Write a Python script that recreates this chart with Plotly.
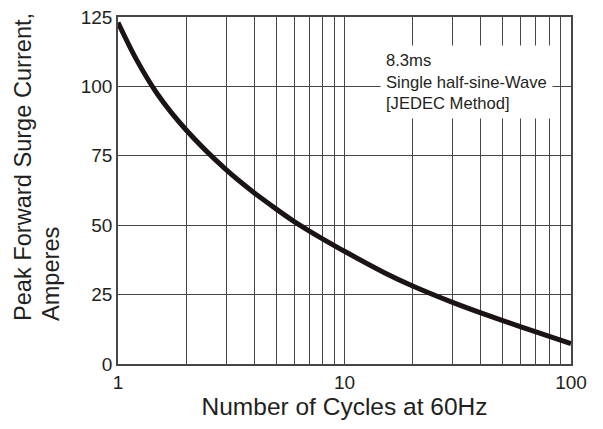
import plotly.graph_objects as go

cycles = [1, 1.2, 1.5, 2, 3, 4, 5, 6, 7, 8, 10, 15, 20, 30, 40, 50, 70, 100]
current = [123, 110, 97, 84.3, 70, 61.6, 55.8, 51.3, 47.9, 45.1, 40.6, 32.9, 28.1, 22.2, 18.4, 15.6, 11.6, 7.3]

x_tick_vals = [1, 10, 100]
x_tick_text = ["1", "10", "100"]
x_minor_vals = [2, 3, 4, 5, 6, 7, 8, 9, 20, 30, 40, 50, 60, 70, 80, 90]
y_tick_vals = [0, 25, 50, 75, 100, 125]

x_title = "Number of Cycles at 60Hz"
y_title_line1 = "Peak Forward Surge Current,"
y_title_line2 = "Amperes"
note_text = "8.3ms<br>Single half-sine-Wave<br>[JEDEC Method]"

font_family = "Liberation Sans, Arial, sans-serif"
text_color = "#231f20"
grid_color = "#4a4545"

fig = go.Figure()
fig.add_trace(go.Scatter(
    x=cycles, y=current, mode="lines",
    line=dict(color="#1c1414", width=5, shape="spline", smoothing=0.8),
    showlegend=False, hoverinfo="skip",
))

fig.update_layout(
    width=603, height=429,
    margin=dict(l=110, r=40, t=9, b=73),
    paper_bgcolor="white", plot_bgcolor="white",
    font=dict(family=font_family, color=text_color),
    xaxis=dict(
        type="log", range=[0, 2], automargin=False,
        tickvals=x_tick_vals, ticktext=x_tick_text,
        tickfont=dict(size=19), ticks="", ticklabeloverflow="allow",
        showgrid=True, gridcolor=grid_color, gridwidth=1.3,
        minor=dict(tickvals=x_minor_vals, showgrid=True, gridcolor=grid_color, gridwidth=1.3, ticks=""),
        showline=True, linecolor=grid_color, linewidth=1.5, mirror=True,
        zeroline=False,
        title=dict(text=x_title, font=dict(size=24.5), standoff=6),
    ),
    yaxis=dict(
        range=[0, 125], tickvals=y_tick_vals, automargin=False,
        tickfont=dict(size=19), ticks="", ticklabeloverflow="allow",
        showgrid=True, gridcolor=grid_color, gridwidth=1.3,
        showline=True, linecolor=grid_color, linewidth=1.5, mirror=True,
        zeroline=False,
    ),
    annotations=[
        dict(
            xref="paper", yref="paper", x=0.578, y=0.919,
            xanchor="left", yanchor="top", align="left",
            text=note_text, showarrow=False,
            font=dict(size=16.6, family=font_family, color=text_color),
            bgcolor="white", borderpad=5,
        ),
        dict(
            xref="paper", yref="paper", x=-0.2406, y=0.121,
            xanchor="left", yanchor="bottom",
            text=y_title_line1, textangle=-90, showarrow=False,
            font=dict(size=23.6, family=font_family, color=text_color),
            borderpad=0,
        ),
        dict(
            xref="paper", yref="paper", x=-0.1788, y=0.121,
            xanchor="left", yanchor="bottom",
            text=y_title_line2, textangle=-90, showarrow=False,
            font=dict(size=23.6, family=font_family, color=text_color),
            borderpad=0,
        ),
    ],
)

fig.write_html("out.html")
